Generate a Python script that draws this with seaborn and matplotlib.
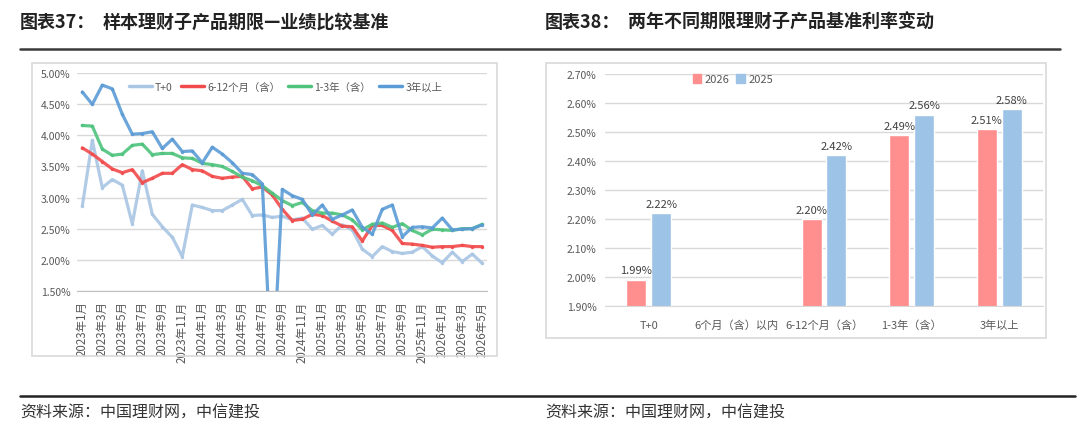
import numpy as np
import pandas as pd
import matplotlib
matplotlib.use('Agg')
import matplotlib.pyplot as plt
from matplotlib.lines import Line2D
from matplotlib.patches import Rectangle, Patch
import seaborn as sns

sns.set_style("white")
plt.rcParams['font.family'] = ['Noto Sans CJK SC', 'DejaVu Sans']

W, H = 1080, 435
GREY = '#595959'

# ---- left chart: monthly benchmark by term (%)
months = pd.date_range('2023-01-01', periods=41, freq='MS')
month_labels = [f'{d.year}年{d.month}月' for d in months]

t0 = [2.86, 3.92, 3.16, 3.29, 3.20, 2.58, 3.43, 2.73, 2.53, 2.36,
      2.05, 2.88, 2.84, 2.79, 2.79, 2.88, 2.97, 2.71, 2.72, 2.68,
      2.70, 2.64, 2.67, 2.49, 2.55, 2.41, 2.56, 2.48, 2.17, 2.05,
      2.21, 2.13, 2.10, 2.12, 2.21, 2.06, 1.95, 2.12, 1.97, 2.09, 1.94]
m6_12 = [3.80, 3.70, 3.58, 3.46, 3.40, 3.45, 3.24, 3.31, 3.39, 3.39,
         3.53, 3.45, 3.43, 3.34, 3.31, 3.33, 3.34, 3.14, 3.17, 3.04,
         2.81, 2.63, 2.65, 2.73, 2.71, 2.62, 2.54, 2.53, 2.30, 2.55,
         2.55, 2.47, 2.26, 2.25, 2.23, 2.20, 2.21, 2.21, 2.23, 2.21, 2.21]
y1_3 = [4.16, 4.15, 3.78, 3.68, 3.70, 3.84, 3.86, 3.69, 3.71, 3.71,
        3.64, 3.63, 3.55, 3.53, 3.50, 3.42, 3.33, 3.27, 3.19, 3.07,
        2.95, 2.87, 2.92, 2.79, 2.75, 2.75, 2.72, 2.64, 2.48, 2.57,
        2.59, 2.52, 2.58, 2.47, 2.40, 2.49, 2.48, 2.47, 2.50, 2.50, 2.57]
y3_plus = [4.70, 4.50, 4.81, 4.75, 4.34, 4.02, 4.03, 4.06, 3.79, 3.94,
           3.74, 3.75, 3.56, 3.81, 3.70, 3.56, 3.39, 3.37, 3.22, 0.00,
           3.13, 3.03, 2.97, 2.72, 2.88, 2.65, 2.72, 2.80, 2.52, 2.41,
           2.81, 2.88, 2.37, 2.52, 2.53, 2.51, 2.67, 2.48, 2.49, 2.50, 2.56]

series_names = ['T+0', '6-12个月（含）', '1-3年（含）', '3年以上']
line_colors = ['#A9C6E4', '#F24A4A', '#4EC37C', '#5B9BD5']

# ---- right chart: benchmark by term, 2026 vs 2025 (%)
terms = ['T+0', '6个月（含）以内', '6-12个月（含）', '1-3年（含）', '3年以上']
rate_2026 = [1.99, np.nan, 2.20, 2.49, 2.51]
rate_2025 = [2.22, np.nan, 2.42, 2.56, 2.58]
years = ['2026', '2025']
bar_colors = ['#FF8F8F', '#9DC3E6']

line_df = pd.DataFrame({
    'idx': np.tile(np.arange(len(months)), 4),
    'value': t0 + m6_12 + y1_3 + y3_plus,
    'series': np.repeat(series_names, len(months)),
})
bar_df = pd.DataFrame({
    'term': terms * 2,
    'rate': rate_2026 + rate_2025,
    'year': np.repeat(years, len(terms)),
})


def px_axes(fig, x0, y0, x1, y1):
    return fig.add_axes([x0 / W, 1 - y1 / H, (x1 - x0) / W, (y1 - y0) / H])


fig = plt.figure(figsize=(W / 100, H / 100), dpi=100)

# frames and rules
for (x0, y0, x1, y1) in [(32, 64, 497, 357), (546, 64, 1046, 339)]:
    fig.add_artist(Rectangle((x0 / W, 1 - y1 / H), (x1 - x0) / W, (y1 - y0) / H,
                             transform=fig.transFigure, fill=False,
                             edgecolor='#D9D9D9', lw=1.2))
fig.add_artist(Line2D([20 / W, 1060 / W], [1 - 50 / H] * 2, transform=fig.transFigure,
                      color='#3A3A3A', lw=1.8))
fig.add_artist(Line2D([20 / W, 1075 / W], [1 - 397 / H] * 2, transform=fig.transFigure,
                      color='#222222', lw=1.8))

# titles
fig.text(20 / W, 1 - 22 / H, '图表37：', fontsize=13, fontweight='bold', va='center', color='#222222')
fig.text(103 / W, 1 - 22 / H, '样本理财子产品期限—业绩比较基准', fontsize=13, fontweight='bold',
         va='center', color='#222222')
fig.text(545 / W, 1 - 22 / H, '图表38：', fontsize=13, fontweight='bold', va='center', color='#222222')
fig.text(628 / W, 1 - 22 / H, '两年不同期限理财子产品基准利率变动', fontsize=13, fontweight='bold',
         va='center', color='#222222')
for x in (20, 545):
    fig.text(x / W, 1 - 413 / H, '资料来源：中国理财网，中信建投', fontsize=11.5,
             va='center', color='#333333', style='italic')

# ---- left: line chart
ax = px_axes(fig, 77.3, 74.3, 487.3, 291.7)
sns.lineplot(data=line_df, x='idx', y='value', hue='series', hue_order=series_names,
             palette=line_colors, lw=2.3, alpha=0.9, marker='o', markersize=2.5,
             markeredgewidth=0, legend=False, sort=False, ax=ax)
ax.set_xlim(-0.5, len(months) - 0.5)
ax.set_ylim(1.5, 5.0)
ax.set_yticks(np.arange(1.5, 5.01, 0.5))
ax.set_yticklabels([f'{v:.2f}%' for v in np.arange(1.5, 5.01, 0.5)])
ax.set_xticks(np.arange(0, len(months), 2))
ax.set_xticklabels(month_labels[::2], rotation=90)
ax.set_xticks(np.arange(-0.5, len(months), 2), minor=True)
ax.tick_params(axis='x', which='major', length=0, pad=7, labelsize=8.3, labelcolor=GREY)
ax.tick_params(axis='x', which='minor', length=5, color='#BFBFBF', width=1)
ax.tick_params(axis='y', length=0, pad=5, labelsize=7.5, labelcolor=GREY)
ax.grid(axis='y', color='#D9D9D9', lw=1.0)
ax.set_axisbelow(True)
for s in ['top', 'right', 'left']:
    ax.spines[s].set_visible(False)
ax.spines['bottom'].set_color('#BFBFBF')
ax.set_xlabel('')
ax.set_ylabel('')
handles = [Line2D([], [], color=c, lw=2.5) for c in line_colors]
ax.legend(handles, series_names, loc='center', bbox_to_anchor=(0.508, 0.94), ncol=4,
          frameon=False, fontsize=7.5, handlelength=2.2, columnspacing=0.8,
          handletextpad=0.3, labelcolor=GREY)

# ---- right: bar chart
bx = px_axes(fig, 605, 75, 1043, 306.7)
sns.barplot(data=bar_df, x='term', y='rate', hue='year', hue_order=years, order=terms,
            palette=bar_colors, saturation=1, width=0.57, gap=0.2, legend=False, ax=bx)
bx.set_ylim(1.9, 2.7)
yt = np.arange(1.9, 2.701, 0.1)
bx.set_yticks(yt)
bx.set_yticklabels([f'{v:.2f}%' for v in yt])
bx.tick_params(axis='y', length=0, pad=6, labelsize=7.5, labelcolor=GREY)
bx.tick_params(axis='x', length=0, pad=10, labelsize=8, labelcolor=GREY)
bx.grid(axis='y', color='#D9D9D9', lw=1.0)
bx.set_axisbelow(True)
for s in ['top', 'right', 'left']:
    bx.spines[s].set_visible(False)
bx.spines['bottom'].set_color('#D9D9D9')
bx.set_xlabel('')
bx.set_ylabel('')
for cont in bx.containers:
    bx.bar_label(cont, fmt='{:.2f}%', padding=3, fontsize=8, color='#404040')
bhandles = [Patch(color=c) for c in bar_colors]
bx.legend(bhandles, years, loc='center', bbox_to_anchor=(0.292, 0.978), ncol=2,
          frameon=False, fontsize=8, handlelength=0.8, handleheight=0.8,
          handletextpad=0.3, columnspacing=0.6, labelcolor=GREY)

fig.savefig('out.png', dpi=100)
